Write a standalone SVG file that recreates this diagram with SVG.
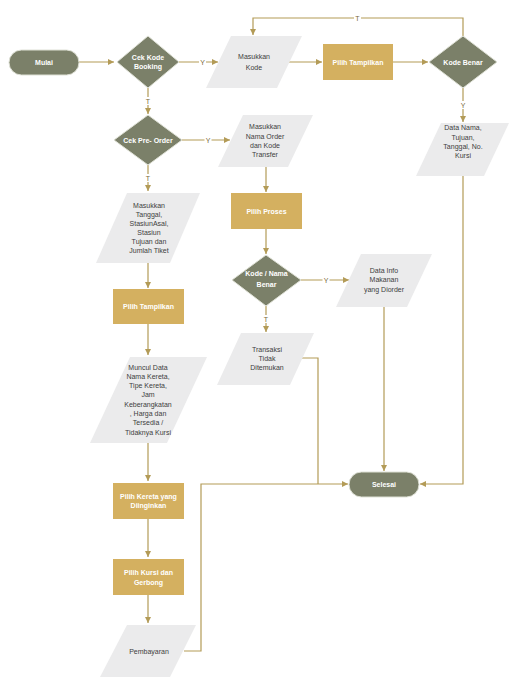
<svg xmlns="http://www.w3.org/2000/svg" width="509" height="692" viewBox="0 0 509 692">
<defs>
<marker id="ah" viewBox="0 0 10 10" refX="10" refY="5" markerWidth="6" markerHeight="6" markerUnits="userSpaceOnUse" orient="auto">
<path d="M0,0 L10,5 L0,10 z" fill="#b39b57"/>
</marker>
</defs>
<style>
.conn{fill:none;stroke:#b39b57;stroke-width:1.2}
.term{fill:#7b8069;stroke:#dfe1d6;stroke-width:1}
.dec{fill:#7b8069;stroke:#dfe1d6;stroke-width:1}
.proc{fill:#d4b060}
.io{fill:#ebebec}
text{font-family:"Liberation Sans",Arial,sans-serif;font-size:7px;text-anchor:middle}
.w{fill:#ffffff;font-weight:bold}
.d{fill:#404040}
.lbl{fill:#7a6a3a;font-size:7px}
.bg{fill:#ffffff}
</style>
<rect width="509" height="692" fill="#ffffff"/>
<g id="connectors">
<path class="conn" d="M79,62 H114" marker-end="url(#ah)"/>
<path class="conn" d="M179,62 H218" marker-end="url(#ah)"/>
<path class="conn" d="M288,62 H322" marker-end="url(#ah)"/>
<path class="conn" d="M393,62 H428" marker-end="url(#ah)"/>
<path class="conn" d="M463,36 V18 H253 V35" marker-end="url(#ah)"/>
<path class="conn" d="M463,88 V122" marker-end="url(#ah)"/>
<path class="conn" d="M463,176 V484 H420" marker-end="url(#ah)"/>
<path class="conn" d="M148,88 V114" marker-end="url(#ah)"/>
<path class="conn" d="M182,140 H230" marker-end="url(#ah)"/>
<path class="conn" d="M266,167 V192" marker-end="url(#ah)"/>
<path class="conn" d="M266,229 V254" marker-end="url(#ah)"/>
<path class="conn" d="M301,280 H349" marker-end="url(#ah)"/>
<path class="conn" d="M384,307 V471" marker-end="url(#ah)"/>
<path class="conn" d="M266,306 V332" marker-end="url(#ah)"/>
<path class="conn" d="M301,358 H318 V484"/>
<path class="conn" d="M184,651 H201 V484 H348" marker-end="url(#ah)"/>
<path class="conn" d="M148,165 V191" marker-end="url(#ah)"/>
<path class="conn" d="M148,263 V288" marker-end="url(#ah)"/>
<path class="conn" d="M148,324 V355" marker-end="url(#ah)"/>
<path class="conn" d="M148,443 V481" marker-end="url(#ah)"/>
<path class="conn" d="M148,519 V557" marker-end="url(#ah)"/>
<path class="conn" d="M148,595 V623" marker-end="url(#ah)"/>
<rect class="bg" x="199" y="58" width="7" height="8"/><text class="lbl" x="202.5" y="64.5">Y</text>
<rect class="bg" x="354" y="14" width="7" height="8"/><text class="lbl" x="357.5" y="20.5">T</text>
<rect class="bg" x="459.5" y="101" width="7" height="8"/><text class="lbl" x="463" y="107.5">Y</text>
<rect class="bg" x="144.5" y="97" width="7" height="8"/><text class="lbl" x="148" y="103.5">T</text>
<rect class="bg" x="204.5" y="136" width="7" height="8"/><text class="lbl" x="208" y="142.5">Y</text>
<rect class="bg" x="144.5" y="174" width="7" height="8"/><text class="lbl" x="148" y="180.5">T</text>
<rect class="bg" x="322.5" y="276" width="7" height="8"/><text class="lbl" x="326" y="282.5">Y</text>
<rect class="bg" x="262.5" y="315" width="7" height="8"/><text class="lbl" x="266" y="321.5">T</text>
</g>
<g id="mulai"><rect class="term" x="9" y="50" width="70" height="25" rx="12.5"/><text class="w" x="44" y="65">Mulai</text></g>
<g id="cek-kode-booking"><polygon class="dec" points="117,62 148,36 179,62 148,88"/><text class="w" x="148" y="60">Cek Kode</text><text class="w" x="148" y="69">Booking</text></g>
<g id="masukkan-kode"><polygon class="io" points="231,36 302,36 277,88 206,88"/><text class="d" x="254" y="59">Masukkan</text><text class="d" x="254" y="70">Kode</text></g>
<g id="pilih-tampilkan-1"><rect class="proc" x="323" y="44" width="70" height="36"/><text class="w" x="358" y="64.5">Pilih Tampilkan</text></g>
<g id="kode-benar"><polygon class="dec" points="429,62 463,36 497,62 463,88"/><text class="w" x="463" y="64.5">Kode Benar</text></g>
<g id="data-nama"><polygon class="io" points="441,123 509,123 484,176 416,176"/><text class="d" x="463" y="130">Data Nama,</text><text class="d" x="463" y="140">Tujuan,</text><text class="d" x="463" y="149">Tanggal, No.</text><text class="d" x="463" y="158">Kursi</text></g>
<g id="cek-pre-order"><polygon class="dec" points="114,140 148,115 182,140 148,165"/><text class="w" x="148" y="142.5">Cek Pre- Order</text></g>
<g id="masukkan-nama-order"><polygon class="io" points="243,115 313,115 288,167 218,167"/><text class="d" x="265" y="129">Masukkan</text><text class="d" x="265" y="139">Nama Order</text><text class="d" x="265" y="148">dan Kode</text><text class="d" x="265" y="157">Transfer</text></g>
<g id="pilih-proses"><rect class="proc" x="231" y="193" width="71" height="36"/><text class="w" x="266.5" y="213.5">Pilih Proses</text></g>
<g id="kode-nama-benar"><polygon class="dec" points="232,280 266,255 301,280 266,306"/><text class="w" x="266.5" y="276">Kode / Nama</text><text class="w" x="266.5" y="287">Benar</text></g>
<g id="data-info-makanan"><polygon class="io" points="361,254 432,254 407,307 336,307"/><text class="d" x="384" y="272.5">Data Info</text><text class="d" x="384" y="281.5">Makanan</text><text class="d" x="384" y="291.5">yang Diorder</text></g>
<g id="transaksi-tidak-ditemukan"><polygon class="io" points="241,333 314,333 290,385 217,385"/><text class="d" x="267" y="351.5">Transaksi</text><text class="d" x="267" y="360.5">Tidak</text><text class="d" x="267" y="369.5">Ditemukan</text></g>
<g id="selesai"><rect class="term" x="349" y="472" width="70" height="25" rx="12.5"/><text class="w" x="384" y="487">Selesai</text></g>
<g id="masukkan-tanggal"><polygon class="io" points="127,193 200,193 170,263 96,263"/><text class="d" x="149" y="207.5">Masukkan</text><text class="d" x="149" y="216.5">Tanggal,</text><text class="d" x="149" y="225.5">StasiunAsal,</text><text class="d" x="149" y="234.5">Stasiun</text><text class="d" x="149" y="243.5">Tujuan dan</text><text class="d" x="149" y="252.5">Jumlah Tiket</text></g>
<g id="pilih-tampilkan-2"><rect class="proc" x="113" y="289" width="71" height="35"/><text class="w" x="148.5" y="309">Pilih Tampilkan</text></g>
<g id="muncul-data"><polygon class="io" points="130,357 207,357 167,443 90,443"/><text class="d" x="148" y="369.5">Muncul Data</text><text class="d" x="148" y="378.8">Nama Kereta,</text><text class="d" x="148" y="388.1">Tipe Kereta,</text><text class="d" x="148" y="397.4">Jam</text><text class="d" x="148" y="406.7">Keberangkatan</text><text class="d" x="148" y="416">, Harga dan</text><text class="d" x="148" y="425.3">Tersedia /</text><text class="d" x="148" y="434.6">Tidaknya Kursi</text></g>
<g id="pilih-kereta"><rect class="proc" x="113" y="483" width="71" height="36"/><text class="w" x="148.5" y="498.5">Pilih Kereta yang</text><text class="w" x="148.5" y="507.5">Diinginkan</text></g>
<g id="pilih-kursi"><rect class="proc" x="113" y="559" width="71" height="36"/><text class="w" x="148.5" y="574.5">Pilih Kursi dan</text><text class="w" x="148.5" y="584.5">Gerbong</text></g>
<g id="pembayaran"><polygon class="io" points="127,625 196,625 170,677 100,677"/><text class="d" x="149" y="653.5">Pembayaran</text></g>
</svg>
